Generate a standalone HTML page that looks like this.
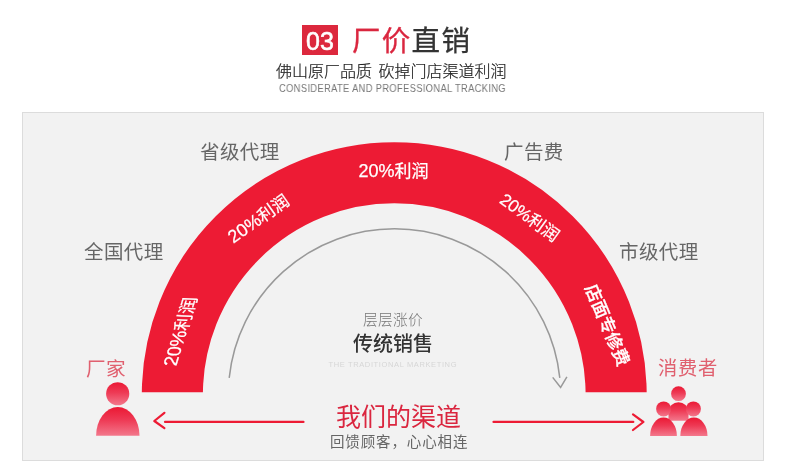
<!DOCTYPE html>
<html lang="zh-CN">
<head>
<meta charset="utf-8">
<title>厂价直销</title>
<style>
*{margin:0;padding:0;box-sizing:border-box}
html,body{width:790px;height:472px;background:#fff;overflow:hidden}
body{position:relative;font-family:"Liberation Sans","Noto Sans CJK SC",sans-serif;color:#333}
.t{position:absolute;white-space:nowrap;line-height:1;will-change:transform}
.badge{will-change:transform;position:absolute;left:302px;top:25px;width:36px;height:30px;background:#dc283d;color:#fff;font-size:25px;line-height:30px;padding-top:1px;overflow:hidden;text-align:center;-webkit-text-stroke:0.55px #fff}
.title{left:351.5px;top:27px;font-size:28.5px;color:#333;letter-spacing:1.3px;font-weight:400;-webkit-text-stroke:0.3px}
.title b{font-weight:inherit;color:#da263f}
.sub{left:276px;top:64px;font-size:16px;color:#222;font-weight:300;word-spacing:2px;-webkit-text-stroke:0.2px}
.en{left:279px;top:83px;font-size:11px;color:#777;letter-spacing:0.4px;transform:scaleX(0.85);transform-origin:0 0}
.panel{position:absolute;left:22px;top:112px;width:742px;height:349px;background:#f2f2f2;border:1px solid #dcdcdc}
svg{position:absolute;left:0;top:0;will-change:transform}
.lab{font-size:19.5px;color:#666;letter-spacing:0.4px}
.pink{font-size:19.3px;color:#e0606f;letter-spacing:0.7px}
</style>
</head>
<body>
<div class="badge">03</div>
<div class="t title"><b>厂价</b>直销</div>
<div class="t sub">佛山原厂品质 砍掉门店渠道利润</div>
<div class="t en">CONSIDERATE AND PROFESSIONAL TRACKING</div>
<div class="panel"></div>

<svg width="790" height="472" viewBox="0 0 790 472">
  <defs>
    <clipPath id="cut"><rect x="0" y="0" width="790" height="392.3"/></clipPath>
    <linearGradient id="g" x1="0" y1="0" x2="0" y2="1">
      <stop offset="0" stop-color="#eb1834"/>
      <stop offset="0.45" stop-color="#ee3a55"/>
      <stop offset="1" stop-color="#f3788c"/>
    </linearGradient>
  </defs>
  <!-- red arc band -->
  <circle cx="394.25" cy="394.7" r="221.9" fill="none" stroke="#ed1b34" stroke-width="61.1" clip-path="url(#cut)"/>
  <!-- grey arc with arrow -->
  <path d="M229.2 377.8 A166.2 166.2 0 0 1 559.8 377.8" fill="none" stroke="#999" stroke-width="1.5"/>
  <path d="M552.7 377.4 L560.6 387.4 L566.9 376.9" fill="none" stroke="#999" stroke-width="1.5"/>
  <!-- arrows -->
  <g stroke="#ed1b34" stroke-width="2.2" fill="none" stroke-linecap="round" stroke-linejoin="round">
    <path d="M165 421.9 H303.5"/>
    <path d="M164.4 412.8 L154.3 421 L164.4 428.2"/>
    <path d="M493.5 421.9 H633.3"/>
    <path d="M633 414.4 L643.4 422 L633 430"/>
  </g>
  <!-- left icon -->
  <circle cx="117.7" cy="393.75" r="11.6" fill="url(#g)"/>
  <path d="M96.1 435.8 A21.7 28.7 0 0 1 139.5 435.8 Z" fill="url(#g)"/>
  <!-- right icon -->
  <circle cx="678.5" cy="393.7" r="7.4" fill="url(#g)"/>
  <path d="M668.5 420.7 V412 A10 9.8 0 0 1 688.5 412 V420.7 Z" fill="url(#g)"/>
  <circle cx="663.6" cy="408.9" r="7.5" fill="url(#g)"/>
  <circle cx="693.4" cy="408.9" r="7.5" fill="url(#g)"/>
  <path d="M650.1 435.9 A13.4 18.4 0 0 1 676.9 435.9 Z" fill="url(#g)"/>
  <path d="M680.3 435.9 A13.6 18.4 0 0 1 707.5 435.9 Z" fill="url(#g)"/>

  <!-- band labels -->
  <g fill="#fff" stroke="#fff" stroke-width="0.25" font-family="'Liberation Sans','Noto Sans CJK SC',sans-serif" font-size="17" text-anchor="middle">
    <text transform="translate(180.6 331.6) rotate(-73) skewX(14)" y="6" font-size="17.5"><tspan font-size="18.5">20%</tspan>利润</text>
    <text transform="translate(258.3 218.5) rotate(-35)" y="6.3"><tspan font-size="18">20%</tspan>利润</text>
    <text x="393.6" y="177"><tspan font-size="18">20%</tspan>利润</text>
    <text transform="translate(529.7 217.5) rotate(36)" y="6"><tspan font-size="17.2">20%</tspan>利润</text>
  </g>
  <text fill="#fff" font-family="'Liberation Sans','Noto Sans CJK SC',sans-serif" font-size="17.4" font-weight="500" stroke="#fff" stroke-width="0.3" text-anchor="middle" transform="translate(607.3 325) rotate(67)" y="6.2">店面专修费</text>
  <text x="392.5" y="366.7" fill="#d6d6d6" font-family="'Liberation Sans',sans-serif" font-size="7.5" text-anchor="middle" textLength="128">THE TRADITIONAL MARKETING</text>
</svg>

<div class="t lab" style="left:200px;top:142.5px">省级代理</div>
<div class="t lab" style="left:504px;top:142.5px">广告费</div>
<div class="t lab" style="left:83.5px;top:242.5px">全国代理</div>
<div class="t lab" style="left:619px;top:242.5px">市级代理</div>
<div class="t pink" style="left:86.2px;top:360.2px;font-size:19.6px;letter-spacing:0.3px">厂家</div>
<div class="t pink" style="left:658px;top:359.1px">消费者</div>
<div class="t" style="left:362.5px;top:313px;font-size:14.7px;color:#777;font-weight:300;letter-spacing:0.3px">层层涨价</div>
<div class="t" style="left:353px;top:334px;font-size:20px;color:#333;font-weight:500">传统销售</div>
<div class="t" style="left:336px;top:405px;font-size:25px;color:#da263f">我们的渠道</div>
<div class="t" style="left:329.8px;top:434.5px;font-size:14.5px;color:#666;letter-spacing:0.86px">回馈顾客，心心相连</div>
</body>
</html>
